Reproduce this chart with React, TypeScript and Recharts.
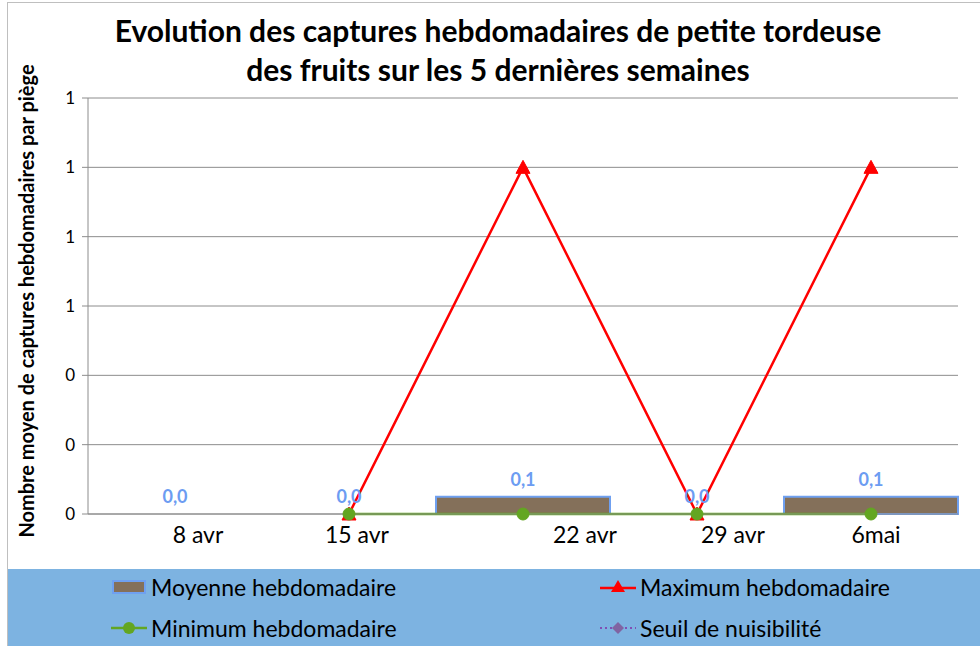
import React from "react";
import { ComposedChart, Bar, Line, XAxis, YAxis, CartesianGrid, LabelList, Legend } from "recharts";

const weeks = ["8 avr", "15 avr", "22 avr", "29 avr", "6mai"];
const moyenne = [0, 0, 0.05, 0, 0.05];
const maximum = [null, 0, 1, 0, 1];
const minimum = [null, 0, 0, 0, 0];
const seuil = [null, null, null, null, null];
const yTicks = [0, 0.2, 0.4, 0.6, 0.8, 1.0, 1.2];

const data = weeks.map((w, i) => ({
  week: w,
  moyenne: moyenne[i],
  maximum: maximum[i],
  minimum: minimum[i],
  seuil: seuil[i],
}));

const FONT = "Lato, 'Open Sans', sans-serif";
const tickShift = [23, 8, 62, 36, 5];

const XTick = (props: any) => {
  const { x, y, payload, index } = props;
  return (
    <text x={x + (tickShift[index] || 0)} y={y + 21} textAnchor="middle" fontSize={23} fontFamily={FONT} fill="#000">
      {payload.value}
    </text>
  );
};

const Triangle = (props: any) => {
  const { cx, cy } = props;
  if (cx == null || cy == null || props.value == null) return null;
  return <path d={`M${cx},${cy - 7} L${cx + 7},${cy + 6} L${cx - 7},${cy + 6} Z`} fill="#FF0000" stroke="#FF0000" />;
};

const fmt = (v: any) => (Math.round(Number(v) * 10) / 10).toFixed(1).replace(".", ",");

const LegendContent = () => {
  const itemStyle: React.CSSProperties = { position: "absolute", display: "flex", alignItems: "center", fontFamily: FONT, fontSize: 23, color: "#000", whiteSpace: "nowrap" };
  return (
    <div style={{ position: "relative", width: 972, height: 77, background: "#7DB3E1" }}>
      <div style={{ ...itemStyle, left: 103, top: 4 }}>
        <svg width={40} height={16}><rect x={2} y={2} width={32} height={12} fill="#84705A" stroke="#6FA0F0" strokeWidth={2} /></svg>
        <span>Moyenne hebdomadaire</span>
      </div>
      <div style={{ ...itemStyle, left: 592, top: 4 }}>
        <svg width={40} height={16}><line x1={0} y1={9} x2={36} y2={9} stroke="#FF0000" strokeWidth={2.5} /><path d="M18,1 L25,13 L11,13 Z" fill="#FF0000" /></svg>
        <span>Maximum hebdomadaire</span>
      </div>
      <div style={{ ...itemStyle, left: 103, top: 45 }}>
        <svg width={40} height={16}><line x1={0} y1={8} x2={36} y2={8} stroke="#63A621" strokeWidth={2.5} /><circle cx={18} cy={8} r={6} fill="#63A621" /></svg>
        <span>Minimum hebdomadaire</span>
      </div>
      <div style={{ ...itemStyle, left: 592, top: 45 }}>
        <svg width={40} height={16}><line x1={0} y1={8} x2={36} y2={8} stroke="#7F4FB5" strokeWidth={2} strokeDasharray="2 3" /><path d="M18,2 L24,8 L18,14 L12,8 Z" fill="#8064A2" /></svg>
        <span>Seuil de nuisibilité</span>
      </div>
    </div>
  );
};

export default function App() {
  return (
    <div style={{ position: "absolute", left: 0, top: 0, width: 980, height: 646, background: "#fff", overflow: "hidden" }}>
      <div style={{ position: "absolute", left: 7, top: 2, width: 990, height: 660, border: "1px solid #BFBFBF" }} />
      <div style={{ position: "absolute", left: 0, top: 11, width: 996, textAlign: "center", fontFamily: FONT, fontWeight: 700, fontSize: 30, lineHeight: "39px", color: "#000" }}>
        Evolution des captures hebdomadaires de petite tordeuse
        <br />
        des fruits sur les 5 dernières semaines
      </div>
      <div style={{ position: "absolute", left: 0, top: 0 }}>
        <ComposedChart width={980} height={646} data={data} barCategoryGap={0} barGap={0} margin={{ top: 98, right: 22, left: 0, bottom: 102 }}>
          <CartesianGrid vertical={false} stroke="#8C8C8C" />
          <XAxis dataKey="week" height={30} tickLine={false} axisLine={{ stroke: "#8C8C8C" }} tick={<XTick />} interval={0} />
          <YAxis
            width={88}
            domain={[0, 1.2]}
            ticks={yTicks}
            tickFormatter={(v: number) => String(Math.round(v))}
            tick={{ fontSize: 17, fontFamily: FONT, fill: "#000" }}
            tickLine={{ stroke: "#8C8C8C" }}
            tickSize={6}
            tickMargin={7}
            axisLine={{ stroke: "#8C8C8C" }}
            label={{ value: "Nombre moyen de captures hebdomadaires par piège", angle: -90, position: "insideLeft", dx: 22, dy: -5, style: { textAnchor: "middle", fontSize: 20, fontWeight: 700, fontFamily: FONT, fill: "#000" } } as any}
          />
          <Bar dataKey="moyenne" name="Moyenne hebdomadaire" fill="#84705A" stroke="#6FA0F0" strokeWidth={2} isAnimationActive={false} />
          <Line dataKey="seuil" name="Seuil de nuisibilité" stroke="#7F4FB5" strokeDasharray="2 3" dot={false} isAnimationActive={false} />
          <Line dataKey="maximum" name="Maximum hebdomadaire" stroke="#FF0000" strokeWidth={2.5} dot={<Triangle />} activeDot={false} isAnimationActive={false} />
          <Line dataKey="minimum" name="Minimum hebdomadaire" stroke="#63A621" strokeWidth={2.5} dot={{ r: 6, fill: "#63A621", stroke: "#63A621", strokeWidth: 1 }} activeDot={false} isAnimationActive={false} />
          <Line dataKey="moyenne" legendType="none" stroke="none" dot={false} activeDot={false} isAnimationActive={false}>
            <LabelList dataKey="moyenne" position="top" offset={11} formatter={fmt} style={{ fill: "#6C9CF2", fontWeight: 700, fontSize: 18, fontFamily: FONT }} />
          </Line>
          <Legend layout="vertical" align="center" verticalAlign="middle" content={<LegendContent />} wrapperStyle={{ left: 8, top: 569, width: 972, height: 77 }} />
        </ComposedChart>
      </div>
    </div>
  );
}
